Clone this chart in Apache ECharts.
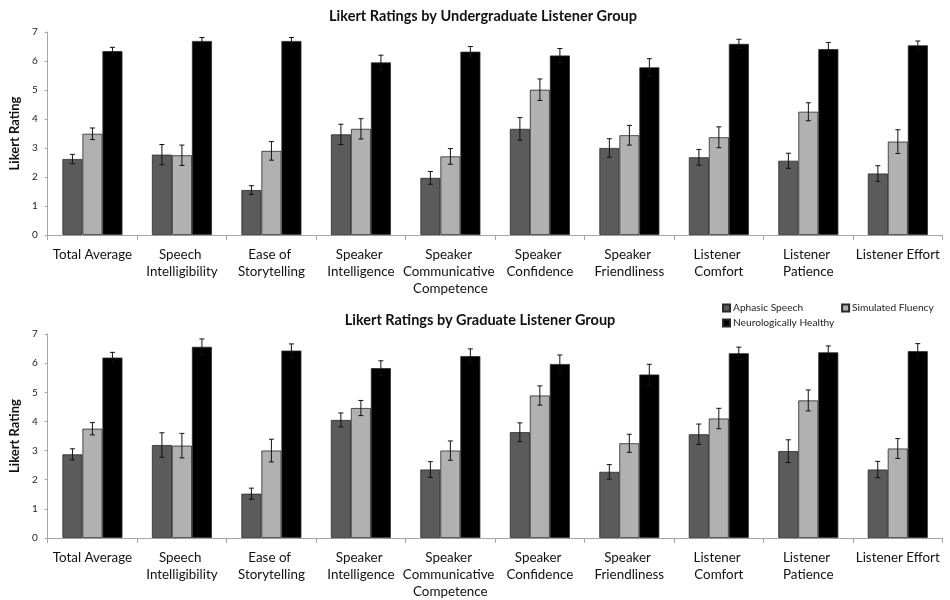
<!DOCTYPE html>
<html>
<head>
<meta charset="utf-8">
<script src="https://cdn.jsdelivr.net/npm/echarts@6/dist/echarts.min.js"></script>
<style>
  html, body { margin: 0; padding: 0; background: #fff; }
  #chart { width: 950px; height: 600px; }
</style>
</head>
<body>
<div id="chart"></div>
<script>
// Categories rated by listeners
const categories = [
  'Total Average', 'Speech Intelligibility', 'Ease of Storytelling',
  'Speaker Intelligence', 'Speaker Communicative Competence',
  'Speaker Confidence', 'Speaker Friendliness', 'Listener Comfort',
  'Listener Patience', 'Listener Effort'
];
const seriesNames = ['Aphasic Speech', 'Simulated Fluency', 'Neurologically Healthy'];
const panelTitles = [
  'Likert Ratings by Undergraduate Listener Group',
  'Likert Ratings by Graduate Listener Group'
];
const yAxisName = 'Likert Rating';

// Undergraduate listener group: means and error
const ugAphasic      = [2.62, 2.77, 1.55, 3.47, 1.97, 3.66, 3.00, 2.68, 2.56, 2.12];
const ugSimulated    = [3.49, 2.75, 2.90, 3.66, 2.71, 5.01, 3.44, 3.37, 4.25, 3.22];
const ugHealthy      = [6.34, 6.69, 6.69, 5.95, 6.32, 6.19, 5.78, 6.59, 6.41, 6.54];
const ugAphasicErr   = [0.16, 0.35, 0.15, 0.35, 0.22, 0.39, 0.32, 0.27, 0.26, 0.27];
const ugSimulatedErr = [0.20, 0.35, 0.32, 0.35, 0.27, 0.37, 0.34, 0.36, 0.31, 0.41];
const ugHealthyErr   = [0.13, 0.12, 0.12, 0.25, 0.18, 0.24, 0.30, 0.16, 0.23, 0.15];

// Graduate listener group: means and error
const grAphasic      = [2.87, 3.19, 1.52, 4.05, 2.35, 3.63, 2.27, 3.56, 2.98, 2.35];
const grSimulated    = [3.75, 3.17, 3.00, 4.46, 3.00, 4.89, 3.25, 4.10, 4.72, 3.07];
const grHealthy      = [6.19, 6.56, 6.43, 5.83, 6.24, 5.97, 5.61, 6.34, 6.37, 6.41];
const grAphasicErr   = [0.19, 0.42, 0.19, 0.24, 0.27, 0.32, 0.25, 0.35, 0.39, 0.28];
const grSimulatedErr = [0.21, 0.42, 0.39, 0.26, 0.33, 0.33, 0.31, 0.35, 0.36, 0.34];
const grHealthyErr   = [0.18, 0.27, 0.23, 0.25, 0.25, 0.31, 0.35, 0.21, 0.22, 0.26];

const FONT = 'Lato';
const colors = ['#5b5b5b', '#b1b1b1', '#000000'];
const BAR_W = 20;

const panels = [
  { means: [ugAphasic, ugSimulated, ugHealthy], errs: [ugAphasicErr, ugSimulatedErr, ugHealthyErr] },
  { means: [grAphasic, grSimulated, grHealthy], errs: [grAphasicErr, grSimulatedErr, grHealthyErr] }
];

const grids = [
  { left: 38, top: 32, width: 912, height: 203 },
  { left: 38, top: 334, width: 910, height: 205 }
];

const xAxes = grids.map((g, i) => ({
  type: 'category',
  gridIndex: i,
  data: categories,
  boundaryGap: true,
  axisLine: { lineStyle: { color: '#a6a6a6', width: 1 } },
  axisTick: { show: true, alignWithLabel: false, length: 5, lineStyle: { color: '#a6a6a6' } },
  axisLabel: {
    interval: 0, margin: 11, color: '#111', fontFamily: FONT, fontSize: 13.4,
    lineHeight: 17, width: 100, overflow: 'break'
  }
}));

const yAxes = grids.map((g, i) => ({
  type: 'value',
  gridIndex: i,
  min: 0, max: 7, interval: 1,
  name: yAxisName,
  nameLocation: 'middle',
  nameGap: 22,
  nameTextStyle: { fontFamily: FONT, fontWeight: 'bold', fontSize: 13, color: '#111' },
  axisLine: { show: true, lineStyle: { color: '#a6a6a6' } },
  axisTick: { show: true, length: 3, lineStyle: { color: '#a6a6a6' } },
  axisLabel: { color: '#222', fontFamily: FONT, fontSize: 10, margin: 10 },
  splitLine: { show: false }
}));

const series = [];
panels.forEach((p, gi) => {
  p.means.forEach((vals, si) => {
    series.push({
      type: 'bar',
      name: seriesNames[si],
      xAxisIndex: gi, yAxisIndex: gi,
      data: vals,
      barWidth: BAR_W,
      barGap: '0%',
      itemStyle: { color: colors[si], borderColor: '#2a2a2a', borderWidth: 0.8 },
      emphasis: { disabled: true }
    });
  });
  p.means.forEach((vals, si) => {
    const errData = vals.map((v, ci) => [ci, v, p.errs[si][ci]]);
    series.push({
      type: 'custom',
      name: seriesNames[si] + ' error',
      xAxisIndex: gi, yAxisIndex: gi,
      data: errData,
      z: 10,
      silent: true,
      renderItem: (params, api) => {
        const ci = api.value(0), v = api.value(1), e = api.value(2);
        const c = api.coord([ci, v]);
        const x = c[0] + (si - 1) * BAR_W;
        const yt = api.coord([ci, v + e])[1];
        const yb = api.coord([ci, v - e])[1];
        const st = { stroke: '#111', lineWidth: 1 };
        return {
          type: 'group',
          children: [
            { type: 'line', shape: { x1: x, y1: yt, x2: x, y2: yb }, style: st },
            { type: 'line', shape: { x1: x - 2.5, y1: yt, x2: x + 2.5, y2: yt }, style: st },
            { type: 'line', shape: { x1: x - 2.5, y1: yb, x2: x + 2.5, y2: yb }, style: st }
          ]
        };
      }
    });
  });
});

const legendCommon = {
  orient: 'horizontal',
  icon: 'rect',
  itemWidth: 7, itemHeight: 7,
  itemGap: 38,
  selectedMode: false,
  textStyle: { fontFamily: FONT, fontSize: 10.2, color: '#222', padding: [0, 0, 0, -2] },
  padding: 0
};

const option = {
  animation: false,
  backgroundColor: '#fff',
  title: [
    { text: panelTitles[0], left: 478, top: 4, textAlign: 'center',
      textStyle: { fontFamily: FONT, fontWeight: 'bold', fontSize: 14.5, color: '#111' } },
    { text: panelTitles[1], left: 475, top: 308, textAlign: 'center',
      textStyle: { fontFamily: FONT, fontWeight: 'bold', fontSize: 14.5, color: '#111' } }
  ],
  legend: [
    Object.assign({}, legendCommon, { data: [seriesNames[0], seriesNames[1]], left: 722, top: 303 }),
    Object.assign({}, legendCommon, { data: [seriesNames[2]], left: 722, top: 318 })
  ],
  grid: grids,
  xAxis: xAxes,
  yAxis: yAxes,
  series: series
};

const chart = echarts.init(document.getElementById('chart'), null, { renderer: 'canvas' });
chart.setOption(option);
</script>
</body>
</html>
